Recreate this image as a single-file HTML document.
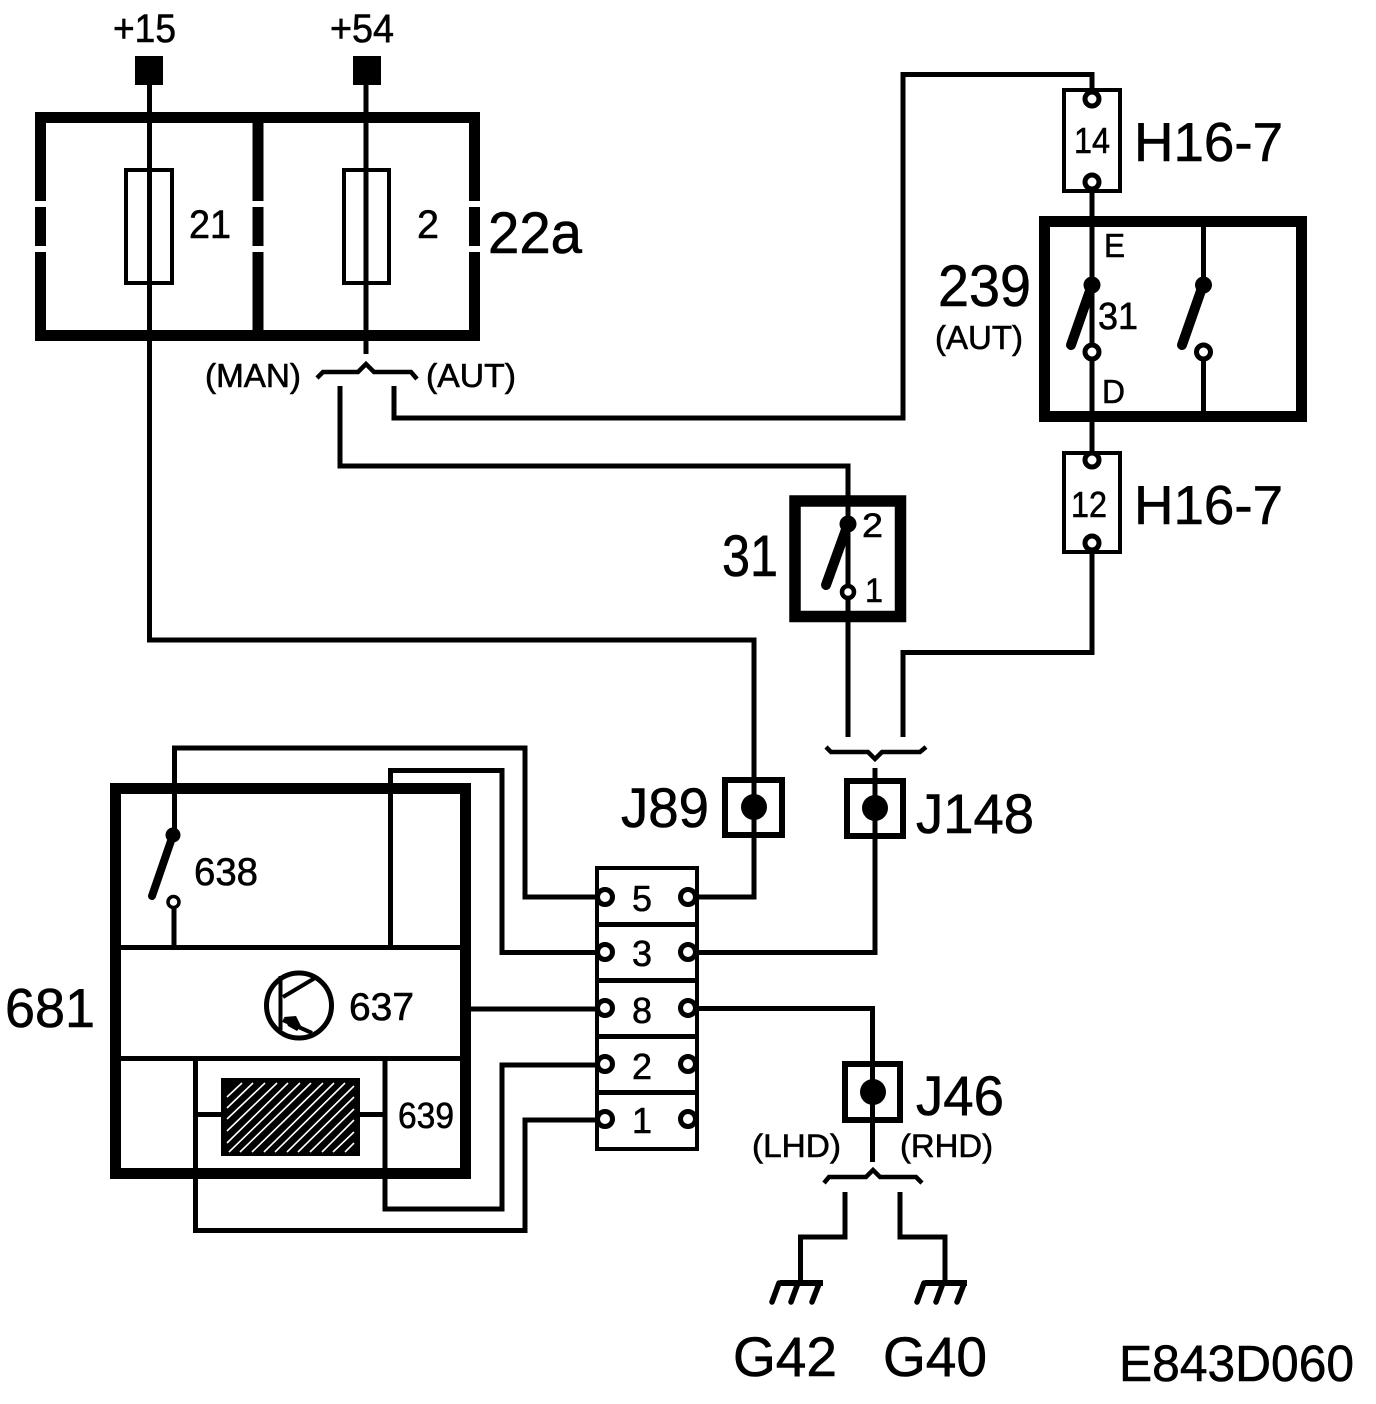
<!DOCTYPE html>
<html><head><meta charset="utf-8"><style>
html,body{margin:0;padding:0;background:#fff}
svg{display:block}
text{font-family:"Liberation Sans",sans-serif;fill:#000;stroke:#000;stroke-width:.6}
.w{fill:none;stroke:#000;stroke-width:5;stroke-linejoin:miter}
.c{fill:#fff;stroke:#000;stroke-width:5}
.k{fill:#000}
.b{fill:none;stroke:#000;stroke-width:11}
.bl{fill:none;stroke:#000;stroke-linecap:round}
</style></head><body>
<svg width="1376" height="1404" viewBox="0 0 1376 1404" xmlns="http://www.w3.org/2000/svg">
<rect width="1376" height="1404" fill="#fff"/>

<!-- 22a box -->
<rect x="40.5" y="117.5" width="434" height="218" class="b"/>
<line x1="258" y1="117" x2="258" y2="336" stroke="#000" stroke-width="11"/>
<g fill="#fff">
<rect x="33" y="201" width="16" height="6"/><rect x="33" y="246" width="16" height="6"/>
<rect x="250" y="201" width="16" height="6"/><rect x="250" y="246" width="16" height="6"/>
<rect x="467" y="201" width="16" height="6"/><rect x="467" y="246" width="16" height="6"/>
</g>
<rect x="135" y="56" width="28" height="29" class="k"/>
<rect x="353" y="56" width="28" height="29" class="k"/>
<rect x="126" y="170" width="46" height="113" fill="none" stroke="#000" stroke-width="4"/>
<rect x="344" y="170" width="45" height="113" fill="none" stroke="#000" stroke-width="4"/>
<path class="w" d="M149.500 80V640H754V897H697"/>
<path class="w" d="M366 80V354"/>
<path fill="none" stroke="#000" stroke-width="4.500" d="M317 378L323 372H358L366 364L374 372H411L417 379"/>
<path class="w" d="M340 386V466H848V592"/>
<path class="w" d="M394 386V418H903V74.500H1092V99"/>

<!-- H16-7 -->
<rect x="1064" y="90" width="56" height="101" fill="#fff" stroke="#000" stroke-width="4"/>
<path class="w" d="M1092 74V99M1092 182V352"/>
<circle cx="1092" cy="99" r="7" class="c"/><circle cx="1092" cy="182" r="7" class="c"/>
<rect x="1064" y="453" width="56" height="99" fill="#fff" stroke="#000" stroke-width="4"/>
<path class="w" d="M1092 352V460M1092 543V652.500H903V737"/>
<circle cx="1092" cy="460" r="7" class="c"/><circle cx="1092" cy="543" r="7" class="c"/>

<!-- 239 -->
<rect x="1044.500" y="221.500" width="257" height="195" class="b"/>
<path class="w" d="M1203.500 222V285M1203.500 352V416"/>
<circle cx="1092" cy="285" r="8.500" class="k"/><circle cx="1203.500" cy="285" r="8.500" class="k"/>
<line x1="1092" y1="285" x2="1071" y2="345" class="bl" stroke-width="10"/>
<line x1="1203" y1="285" x2="1182" y2="345" class="bl" stroke-width="10"/>
<circle cx="1092" cy="352" r="7" class="c"/><circle cx="1203.500" cy="352" r="7" class="c"/>

<!-- 31 -->
<rect x="795" y="501" width="105.500" height="115.500" fill="none" stroke="#000" stroke-width="11.500"/>
<circle cx="848" cy="524" r="8.500" class="k"/>
<line x1="848" y1="524" x2="826" y2="585" class="bl" stroke-width="10"/>
<path class="w" d="M848 592V737"/>
<circle cx="848" cy="592" r="6" class="c" style="stroke-width:4.500"/>

<!-- J boxes -->
<path fill="none" stroke="#000" stroke-width="4.500" d="M826 747L831 752H868L875 759L882 752H920L926 747"/>
<rect x="725" y="780" width="57" height="55" fill="none" stroke="#000" stroke-width="6"/>
<circle cx="754" cy="807" r="13" class="k"/>
<rect x="847" y="781" width="56" height="55" fill="none" stroke="#000" stroke-width="6"/>
<circle cx="875" cy="808" r="13" class="k"/>
<path class="w" d="M875 768V952.500H697"/>
<rect x="845" y="1064" width="55" height="56" fill="none" stroke="#000" stroke-width="6"/>
<circle cx="873" cy="1092" r="13" class="k"/>
<path class="w" d="M697 1008.500H872.500V1162"/>

<!-- Connector block -->
<rect x="597" y="868" width="100" height="281" fill="#fff" stroke="#000" stroke-width="4"/>
<path class="w" d="M597 924.500H697M597 980.500H697M597 1036.500H697M597 1092.500H697"/>
<g class="c" fill="#fff">
<circle cx="605" cy="897" r="7.500"/><circle cx="605" cy="952" r="7.500"/><circle cx="605" cy="1008" r="7.500"/><circle cx="605" cy="1064" r="7.500"/><circle cx="605" cy="1119" r="7.500"/>
<circle cx="688" cy="897" r="7.500"/><circle cx="688" cy="952" r="7.500"/><circle cx="688" cy="1008" r="7.500"/><circle cx="688" cy="1064" r="7.500"/><circle cx="688" cy="1119" r="7.500"/>
</g>

<!-- 681 -->
<rect x="115.500" y="788.500" width="350" height="385" class="b"/>
<path class="w" d="M116 947.500H466M116 1058.500H466"/>
<path class="w" d="M174.500 835V748H525V897H598"/>
<path class="w" d="M390.500 947V770.500H502V952.500H598"/>
<path class="w" d="M466 1009H598"/>
<path class="w" d="M195.500 1058V1230.500H525V1120H598"/>
<path class="w" d="M385 1058V1209H502V1065H598"/>
<path class="w" d="M195 1114.500H222M359 1114.500H385"/>
<path class="w" d="M174 908V947"/>
<circle cx="173" cy="835" r="7.500" class="k"/>
<line x1="173" y1="835" x2="152" y2="896" class="bl" stroke-width="8"/>
<circle cx="173.500" cy="902" r="5.500" fill="#fff" stroke="#000" stroke-width="3.500"/>
<circle cx="299" cy="1005.500" r="32.500" fill="none" stroke="#000" stroke-width="5"/>
<path fill="none" stroke="#000" stroke-width="4" d="M280.500 976V1030M283 997L315 978M283 1020L312 1033"/>
<path class="k" d="M284 1017L296 1016L301 1026L297 1031L288 1026Z"/>
<rect x="221" y="1078" width="139" height="78" class="k"/>
<g stroke="#fff" stroke-width="1.600" fill="none">
<path d="M227 1097L242 1083M227 1108L253 1083M227 1119L265 1083M227 1131L277 1083M227 1143L288 1083M229 1152L300 1083M240 1152L311 1083M252 1152L323 1083M264 1152L334 1083M275 1152L345 1083M287 1152L354 1086M298 1152L354 1097M310 1152L354 1109M322 1152L354 1120M333 1152L354 1132M345 1152L354 1143"/>
</g>

<!-- ground -->
<path fill="none" stroke="#000" stroke-width="4.500" d="M824 1183L829 1177H866L873 1170L880 1177H916L922 1183"/>
<path class="w" d="M845 1192V1237H800.500V1283M900 1192V1237H945V1283"/>
<path fill="none" stroke="#000" stroke-width="6" d="M780 1283H823M925 1283H967"/>
<path class="bl" stroke-width="5.500" d="M779 1283L772 1302M798 1283L791 1302M819 1284L812 1302M924 1283L917 1302M943 1283L936 1302M964 1284L957 1302"/>

<!-- Text -->
<text x="113" y="42" font-size="40" textLength="63" lengthAdjust="spacingAndGlyphs">+15</text>
<text x="330" y="42" font-size="40" textLength="64" lengthAdjust="spacingAndGlyphs">+54</text>
<text x="189" y="238" font-size="40" textLength="42" lengthAdjust="spacingAndGlyphs">21</text>
<text x="417" y="238" font-size="40" textLength="22" lengthAdjust="spacingAndGlyphs">2</text>
<text x="488" y="253" font-size="58" textLength="94" lengthAdjust="spacingAndGlyphs">22a</text>
<text x="205" y="387" font-size="33" textLength="96" lengthAdjust="spacingAndGlyphs">(MAN)</text>
<text x="426" y="387" font-size="33" textLength="90" lengthAdjust="spacingAndGlyphs">(AUT)</text>
<text x="1134" y="161" font-size="55" textLength="149" lengthAdjust="spacingAndGlyphs">H16-7</text>
<text x="1134" y="524" font-size="55" textLength="149" lengthAdjust="spacingAndGlyphs">H16-7</text>
<text x="1074" y="153" font-size="36" textLength="36" lengthAdjust="spacingAndGlyphs">14</text>
<text x="1071" y="517" font-size="36" textLength="36" lengthAdjust="spacingAndGlyphs">12</text>
<text x="1104" y="257" font-size="33" textLength="21" lengthAdjust="spacingAndGlyphs">E</text>
<text x="1102" y="403" font-size="33" textLength="23" lengthAdjust="spacingAndGlyphs">D</text>
<text x="1098" y="329" font-size="38" textLength="40" lengthAdjust="spacingAndGlyphs">31</text>
<text x="938" y="306" font-size="58" textLength="93" lengthAdjust="spacingAndGlyphs">239</text>
<text x="935" y="349" font-size="33" textLength="88" lengthAdjust="spacingAndGlyphs">(AUT)</text>
<text x="862" y="537" font-size="34" textLength="21" lengthAdjust="spacingAndGlyphs">2</text>
<text x="865" y="602" font-size="34" textLength="18" lengthAdjust="spacingAndGlyphs">1</text>
<text x="722" y="576" font-size="58" textLength="56" lengthAdjust="spacingAndGlyphs">31</text>
<text x="194" y="885" font-size="39" textLength="64" lengthAdjust="spacingAndGlyphs">638</text>
<text x="349" y="1020" font-size="39" textLength="65" lengthAdjust="spacingAndGlyphs">637</text>
<text x="398" y="1128" font-size="36" textLength="56" lengthAdjust="spacingAndGlyphs">639</text>
<text x="5" y="1027" font-size="55" textLength="90" lengthAdjust="spacingAndGlyphs">681</text>
<text x="632" y="911" font-size="36" textLength="20" lengthAdjust="spacingAndGlyphs">5</text>
<text x="632" y="966" font-size="36" textLength="20" lengthAdjust="spacingAndGlyphs">3</text>
<text x="632" y="1023" font-size="36" textLength="20" lengthAdjust="spacingAndGlyphs">8</text>
<text x="632" y="1079" font-size="36" textLength="20" lengthAdjust="spacingAndGlyphs">2</text>
<text x="632" y="1133" font-size="36" textLength="20" lengthAdjust="spacingAndGlyphs">1</text>
<text x="621" y="827" font-size="56" textLength="88" lengthAdjust="spacingAndGlyphs">J89</text>
<text x="916" y="833" font-size="56" textLength="118" lengthAdjust="spacingAndGlyphs">J148</text>
<text x="916" y="1115" font-size="56" textLength="88" lengthAdjust="spacingAndGlyphs">J46</text>
<text x="752" y="1157" font-size="32" textLength="89" lengthAdjust="spacingAndGlyphs">(LHD)</text>
<text x="900" y="1157" font-size="32" textLength="93" lengthAdjust="spacingAndGlyphs">(RHD)</text>
<text x="733" y="1376" font-size="56" textLength="104" lengthAdjust="spacingAndGlyphs">G42</text>
<text x="883" y="1376" font-size="56" textLength="104" lengthAdjust="spacingAndGlyphs">G40</text>
<text x="1119" y="1381" font-size="51" textLength="235" lengthAdjust="spacingAndGlyphs">E843D060</text>
</svg>
</body></html>
